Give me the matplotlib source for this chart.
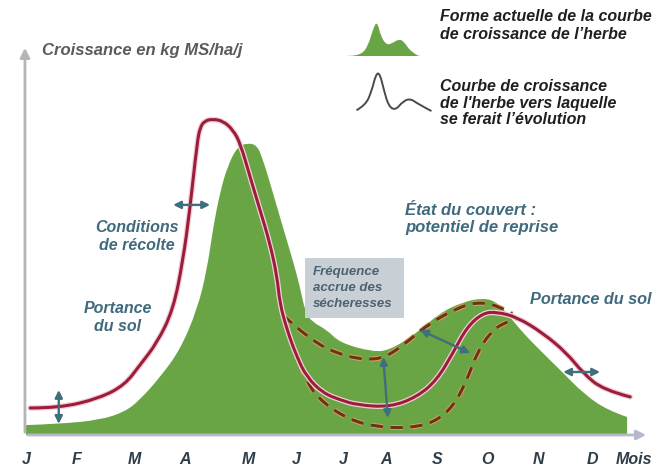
import matplotlib.pyplot as plt
import matplotlib.patheffects as pe
from matplotlib.patches import Rectangle, PathPatch
from matplotlib.path import Path

plt.rcParams['font.family'] = ['Liberation Sans', 'DejaVu Sans']

# x in months (0 = J), y in arbitrary growth units
months = ['J', 'F', 'M', 'A', 'M', 'J', 'J', 'A', 'S', 'O', 'N', 'D']
month_pos = [0, 0.98, 2.08, 3.06, 4.27, 5.19, 6.10, 6.92, 7.90, 8.87, 9.85, 10.90]

# current growth curve (green area)
green_x = [0.0, 0.65, 1.42, 1.90, 2.19, 2.58, 2.96, 3.29, 3.48, 3.60, 3.73, 3.87, 4.06,
           4.25, 4.44, 4.56, 4.75, 4.94, 5.13, 5.27, 5.37, 5.50, 5.79, 6.04, 6.67,
           7.00, 7.52, 7.96, 8.40, 8.79, 9.06, 9.31, 9.56, 9.94, 10.33, 10.71, 11.17, 11.56]
green_y = [3.3, 3.7, 5.0, 7.7, 11.7, 19.3, 28.3, 41.7, 55, 69.3, 80.7, 89.3, 96,
           97.3, 96.7, 91.7, 80.7, 69.3, 58.3, 49.3, 41, 37.7, 35, 30.7, 27.7,
           28.3, 34, 40.7, 44.3, 45.7, 44.3, 39.3, 34, 27.3, 20.7, 14, 8.3, 6]

# future growth curve (red line)
red_x = [0.08, 0.65, 1.42, 1.90, 2.19, 2.52, 2.83, 3.02, 3.15, 3.29, 3.35, 3.44, 3.58,
         3.79, 3.98, 4.12, 4.31, 4.50, 4.69, 4.83, 4.88, 5.02, 5.21, 5.40, 5.71,
         6.04, 6.37, 7.00, 7.52, 7.90, 8.21, 8.48, 8.79, 9.06, 9.44, 9.94, 10.40,
         10.71, 11.10, 11.62]
red_y = [9, 9, 12.3, 16.7, 23.3, 30.7, 41.7, 58.3, 75, 97.3, 102.7, 104.7, 105.3,
         104.7, 101.7, 97.3, 86, 75, 64, 52.7, 44, 35, 26, 19.3, 14,
         11.7, 10, 9.3, 12.7, 18.3, 27.3, 36, 40.7, 41, 39.3, 34, 27.3,
         20.7, 15, 12.7]

# drought variability envelope (dashed)
upper_x = [4.94, 5.46, 6.04, 6.56, 6.94, 7.38, 7.77, 8.29, 8.67, 9.06, 9.35]
upper_y = [40, 31.7, 26.7, 25, 26, 31.7, 37.3, 42.3, 44.3, 43.3, 40.3]
lower_x = [5.27, 5.40, 5.71, 6.23, 6.75, 7.33, 7.83, 8.21, 8.48, 8.67, 8.92, 9.17, 9.44]
lower_y = [24, 17.3, 10.7, 5, 2.7, 2.3, 4, 9.3, 18.3, 27.3, 34, 37.3, 39]

# legend glyphs
leg_green_x = [0, 0.15, 0.25, 0.32, 0.38, 0.44, 0.52, 0.60, 0.70, 0.78, 0.88, 1.0]
leg_green_y = [0, 0.03, 0.30, 0.75, 1.0, 0.55, 0.32, 0.35, 0.48, 0.42, 0.12, 0]
leg_line_x = [0, 0.12, 0.20, 0.26, 0.31, 0.37, 0.43, 0.52, 0.62, 0.72, 0.82, 1.0]
leg_line_y = [0.02, 0.15, 0.50, 0.95, 0.97, 0.50, 0.12, 0.02, 0.25, 0.32, 0.18, 0.0]

text_blue = '#3f6a7d'
arrow_col = '#3e6f7c'
red = '#9b1d3c'
green = '#69a544'


def smooth_path(xs, ys, close=False):
    # quadratic bezier through the midpoints, passing by the first and last point
    pts = list(zip(xs, ys))
    verts = [pts[0]]
    codes = [Path.MOVETO]
    for i in range(1, len(pts) - 1):
        mid = ((pts[i][0] + pts[i + 1][0]) / 2, (pts[i][1] + pts[i + 1][1]) / 2)
        if i == len(pts) - 2:
            mid = pts[-1]
        verts += [pts[i], mid]
        codes += [Path.CURVE3, Path.CURVE3]
    if close:
        verts += [(xs[-1], 0), (xs[0], 0), pts[0]]
        codes += [Path.LINETO, Path.LINETO, Path.CLOSEPOLY]
    return Path(verts, codes)


fig = plt.figure(figsize=(6.57, 4.70), dpi=100)
ax = fig.add_axes([0, 0, 1, 1])
ax.set_xlim(-0.5, 12.135)
ax.set_ylim(-11.67, 145)
ax.axis('off')

# axes arrows
ax.annotate('', xy=(-0.02, 130), xytext=(-0.02, 0),
            arrowprops=dict(arrowstyle='-|>', color='#b5b5b5', lw=2, mutation_scale=14))
ax.annotate('', xy=(11.98, 0), xytext=(-0.02, 0),
            arrowprops=dict(arrowstyle='-|>', color='#b9b7cc', lw=2, mutation_scale=14))

ax.add_patch(PathPatch(smooth_path(green_x, green_y, close=True), facecolor=green,
                       lw=0, zorder=2))

box = Rectangle((5.37, 39), 1.9, 20, facecolor='#c8d0d5', edgecolor='none', zorder=3)
ax.add_patch(box)
ax.text(5.52, 49, 'Fréquence\naccrue des\nsécheresses', color='#4b6272', fontsize=9.5,
        fontweight='bold', style='italic', va='center', ha='left', linespacing=1.4, zorder=4)

dash_fx = [pe.Stroke(linewidth=3.6, foreground='#d9a25c'), pe.Normal()]
for xs, ys in [(upper_x, upper_y), (lower_x, lower_y)]:
    ax.add_patch(PathPatch(smooth_path(xs, ys), fill=False, edgecolor='#6a3419', lw=2.2,
                           linestyle=(0, (4, 2.5)), zorder=5, path_effects=dash_fx))
ax.add_patch(PathPatch(smooth_path(red_x, red_y), fill=False, edgecolor=red, lw=2.2, zorder=6,
                       capstyle='round',
                       path_effects=[pe.Stroke(linewidth=4, foreground='#f2d0d6'), pe.Normal()]))

# double arrows
arrows = [((0.63, 15), (0.63, 3.7)),
          ((2.83, 76.7), (3.54, 76.7)),
          ((6.87, 26), (6.96, 5.7)),
          ((7.58, 35), (8.54, 27.3)),
          ((10.33, 21), (11.04, 21))]
for a, b in arrows:
    ax.annotate('', xy=b, xytext=a, zorder=7,
                arrowprops=dict(arrowstyle='<|-|>', color=arrow_col, lw=1.7, mutation_scale=11,
                                shrinkA=0, shrinkB=0))

# text
font = dict(fontweight='bold', style='italic')
ax.text(0.31, 128.3, 'Croissance en kg MS/ha/j', color='#5a5a5a', fontsize=12, va='center', **font)
ax.text(2.13, 66.3, 'Conditions\nde récolte', color=text_blue, fontsize=11.5, ha='center',
        va='center', linespacing=1.25, **font)
ax.text(1.77, 39.3, 'Portance\ndu sol', color=text_blue, fontsize=11.5, ha='center',
        va='center', linespacing=1.25, **font)
ax.text(7.29, 72, 'État du couvert :\npotentiel de reprise', color=text_blue, fontsize=12,
        va='center', linespacing=1.15, **font)
ax.text(9.69, 45, 'Portance du sol', color=text_blue, fontsize=11.7, va='center', **font)

for m, x in zip(months, month_pos):
    ax.text(x, -8.3, m, color='#2e3d48', fontsize=11.5, ha='center', va='center', **font)
ax.text(11.69, -8.3, 'Mois', color='#2e3d48', fontsize=11.5, ha='center', va='center', **font)

# legend
ax.text(7.96, 142, 'Forme actuelle de la courbe\nde croissance de l’herbe', color='#1f1f1f',
        fontsize=11.5, va='top', linespacing=1.25, **font)
ax.text(7.96, 118.7, 'Courbe de croissance\nde l\'herbe vers laquelle\nse ferait l’évolution',
        color='#1f1f1f', fontsize=11.5, va='top', linespacing=1.15, **font)

lg = fig.add_axes([348 / 657, 1 - 56 / 470, 74 / 657, 37 / 470])
lg.add_patch(PathPatch(smooth_path(leg_green_x, leg_green_y, close=True), facecolor=green, lw=0))
lg.plot([-0.05, 1.0], [0, 0], color='#6d8f5a', lw=1)
lg.set_xlim(-0.05, 1.05)
lg.set_ylim(0, 1.05)
lg.axis('off')

ll = fig.add_axes([355 / 657, 1 - 113 / 470, 78 / 657, 43 / 470])
ll.add_patch(PathPatch(smooth_path(leg_line_x, leg_line_y), fill=False, edgecolor='#4a4a4a', lw=1.4))
ll.set_xlim(-0.02, 1.02)
ll.set_ylim(-0.05, 1.05)
ll.axis('off')

fig.savefig('out.png', dpi=100)
